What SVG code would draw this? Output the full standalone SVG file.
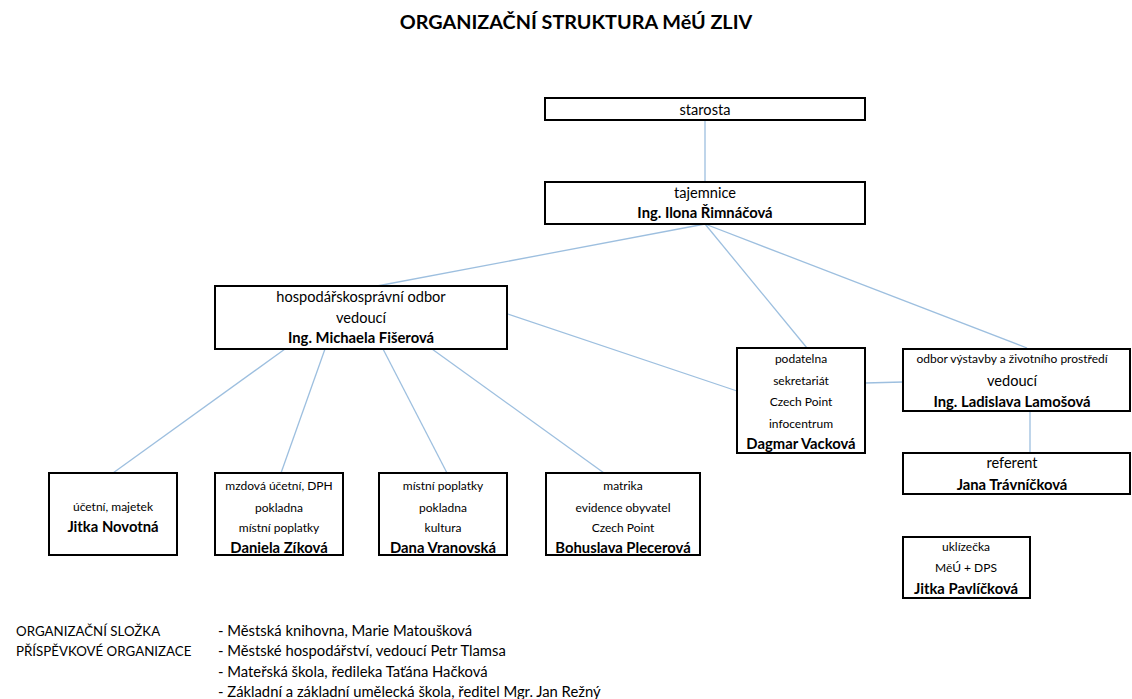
<svg xmlns="http://www.w3.org/2000/svg" width="1132" height="699" viewBox="0 0 1132 699">
<style>
text{font-family:Lato,"Open Sans","Liberation Sans",sans-serif;fill:#000;text-anchor:middle}
.box{fill:#fff;stroke:#000;stroke-width:2}
.c{stroke:#9dbfdf;stroke-width:1.3;fill:none}
.s{font-size:12px}
.m{font-size:14.6px}
.b{font-size:14.8px;font-weight:bold}
.l{text-anchor:start;font-size:14.8px}
.u{text-anchor:start;font-size:13.3px}
</style>
<rect width="1132" height="699" fill="#fff"/>
<text x="576" y="29" style="font-size:19.8px;font-weight:bold">ORGANIZAČNÍ STRUKTURA MěÚ ZLIV</text>
<g id="connectors">
<line class="c" x1="705" y1="120" x2="705" y2="182"/>
<line class="c" x1="705" y1="224" x2="377" y2="286"/>
<line class="c" x1="705" y1="224" x2="807" y2="348"/>
<line class="c" x1="705" y1="224" x2="1027" y2="348"/>
<line class="c" x1="508" y1="314" x2="737" y2="391"/>
<line class="c" x1="865" y1="383" x2="903" y2="382"/>
<line class="c" x1="1030" y1="411" x2="1030" y2="453"/>
<line class="c" x1="285" y1="349" x2="113" y2="473"/>
<line class="c" x1="325" y1="349" x2="281" y2="473"/>
<line class="c" x1="383" y1="349" x2="447" y2="473"/>
<line class="c" x1="432" y1="349" x2="604" y2="473"/>
</g>
<g id="starosta">
<rect class="box" x="545" y="98" width="320" height="22"/>
<text class="m" x="705" y="115">starosta</text>
</g>
<g id="tajemnice">
<rect class="box" x="545" y="182" width="320" height="42"/>
<text class="m" x="705" y="198">tajemnice</text>
<text class="b" x="705" y="218">Ing. Ilona Řimnáčová</text>
</g>
<g id="hospodarskospravni">
<rect class="box" x="215" y="286" width="292" height="63"/>
<text class="m" x="361" y="302">hospodářskosprávní odbor</text>
<text class="m" x="361" y="323">vedoucí</text>
<text class="b" x="361" y="343">Ing. Michaela Fišerová</text>
</g>
<g id="podatelna">
<rect class="box" x="737" y="348" width="128" height="105"/>
<text class="s" x="801" y="363">podatelna</text>
<text class="s" x="801" y="385">sekretariát</text>
<text class="s" x="801" y="406">Czech Point</text>
<text class="s" x="801" y="428">infocentrum</text>
<text class="b" x="801" y="449">Dagmar Vacková</text>
</g>
<g id="odbor-vystavby">
<rect class="box" x="903" y="349" width="227" height="62"/>
<text class="s" x="1012" y="363">odbor výstavby a životního prostředí</text>
<text class="m" x="1012" y="386">vedoucí</text>
<text class="b" x="1012" y="407">Ing. Ladislava Lamošová</text>
</g>
<g id="referent">
<rect class="box" x="903" y="453" width="227" height="41"/>
<text class="m" x="1012" y="468">referent</text>
<text class="b" x="1012" y="490">Jana Trávníčková</text>
</g>
<g id="novotna">
<rect class="box" x="49" y="473" width="128" height="82"/>
<text class="s" x="113" y="511">účetní, majetek</text>
<text class="b" x="113" y="532">Jitka Novotná</text>
</g>
<g id="zikova">
<rect class="box" x="215" y="473" width="128" height="82"/>
<text class="s" x="279" y="490">mzdová účetní, DPH</text>
<text class="s" x="279" y="512">pokladna</text>
<text class="s" x="279" y="532">místní poplatky</text>
<text class="b" x="279" y="553">Daniela Zíková</text>
</g>
<g id="vranovska">
<rect class="box" x="379" y="473" width="128" height="82"/>
<text class="s" x="443" y="490">místní poplatky</text>
<text class="s" x="443" y="512">pokladna</text>
<text class="s" x="443" y="532">kultura</text>
<text class="b" x="443" y="553">Dana Vranovská</text>
</g>
<g id="plecerova">
<rect class="box" x="546" y="473" width="154" height="82"/>
<text class="s" x="623" y="490">matrika</text>
<text class="s" x="623" y="512">evidence obyvatel</text>
<text class="s" x="623" y="532">Czech Point</text>
<text class="b" x="623" y="553">Bohuslava Plecerová</text>
</g>
<g id="pavlickova">
<rect class="box" x="903" y="537" width="127" height="61"/>
<text class="s" x="966" y="551">uklízečka</text>
<text class="s" x="966" y="572">MěÚ + DPS</text>
<text class="b" x="966" y="594">Jitka Pavlíčková</text>
</g>
<g id="footer">
<text class="u" x="16" y="636">ORGANIZAČNÍ SLOŽKA</text>
<text class="u" x="16" y="656">PŘÍSPĚVKOVÉ ORGANIZACE</text>
<text class="l" x="218" y="636">- Městská knihovna, Marie Matoušková</text>
<text class="l" x="218" y="656">- Městské hospodářství, vedoucí Petr Tlamsa</text>
<text class="l" x="218" y="677">- Mateřská škola, ředileka Taťána Hačková</text>
<text class="l" x="218" y="697">- Základní a základní umělecká škola, ředitel Mgr. Jan Režný</text>
</g>
</svg>
